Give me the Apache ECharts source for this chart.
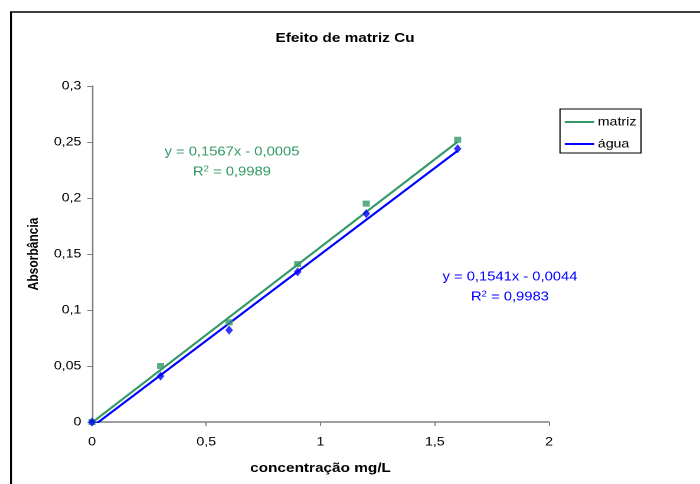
<!DOCTYPE html>
<html>
<head>
<meta charset="utf-8">
<script src="https://cdn.jsdelivr.net/npm/echarts@6/dist/echarts.min.js"></script>
<style>
  html, body { margin: 0; padding: 0; background: #fff; overflow: hidden; }
  /* The chart is laid out on a narrower canvas and widened to 700px,
     which gives the broad, spaced-out lettering of the original sheet */
  #chart { width: 593px; height: 484px; transform: scaleX(1.18044); transform-origin: 0 0; }
</style>
</head>
<body>
<div id="chart"></div>
<script>
// Absorbance readings for Cu standards, in matrix and in water
const concentrations = [0, 0.3, 0.6, 0.9, 1.2, 1.6];
const matrizAbs = [0, 0.050, 0.089, 0.141, 0.195, 0.252];
const aguaAbs = [0, 0.041, 0.082, 0.134, 0.186, 0.244];

// Linear fit coefficients shown on the chart
const matrizFit = { slope: 0.1567, intercept: -0.0005, r2: 0.9989 };
const aguaFit = { slope: 0.1541, intercept: -0.0044, r2: 0.9983 };

// Axis ranges
const xTicks = { min: 0, max: 2, interval: 0.5 };
const yTicks = { min: 0, max: 0.3, interval: 0.05 };

const GREEN = '#339966';
const BLUE = '#0000FF';
const FONT = '"Liberation Sans", Arial, sans-serif';

const comma = v => String(v).replace('.', ',');
const fmt4 = v => v.toFixed(4).replace('.', ',');

function pairs(xs, ys) { return xs.map((x, i) => [x, ys[i]]); }
function fitLine(fit) {
  const x0 = concentrations[0];
  const x1 = concentrations[concentrations.length - 1];
  return [[x0, fit.slope * x0 + fit.intercept], [x1, fit.slope * x1 + fit.intercept]];
}
function eqText(fit) {
  const sign = fit.intercept < 0 ? '-' : '+';
  return 'y = ' + fmt4(fit.slope) + 'x ' + sign + ' ' + fmt4(Math.abs(fit.intercept));
}
function fitLabels(fit, color, cx, cy) {
  return [
    {
      type: 'text', x: cx, y: cy, silent: true,
      style: { text: eqText(fit), fill: color, font: '12.5px ' + FONT, align: 'center', verticalAlign: 'middle' }
    },
    {
      type: 'text', x: cx, y: cy + 20, silent: true,
      style: {
        text: '{n|R}{s|2}{n| = ' + fmt4(fit.r2) + '}',
        align: 'center', verticalAlign: 'middle',
        rich: {
          n: { fontFamily: FONT, fontSize: 12.5, fill: color },
          s: { fontFamily: FONT, fontSize: 8, fill: color, verticalAlign: 'top' }
        }
      }
    }
  ];
}

const chart = echarts.init(document.getElementById('chart'), null, { renderer: 'canvas', devicePixelRatio: 2 });

chart.setOption({
  backgroundColor: '#fff',
  animation: false,
  title: {
    text: 'Efeito de matriz Cu',
    left: 292.3, textAlign: 'center', top: 32, padding: 0,
    textStyle: { fontFamily: FONT, fontSize: 13, fontWeight: 'bold', color: '#000' }
  },
  legend: {
    left: 474.4, top: 109,
    orient: 'vertical',
    data: ['matriz', 'água'],
    icon: 'rect',
    itemWidth: 25, itemHeight: 2,
    itemGap: 10,
    padding: [7, 4, 3, 4],
    borderColor: '#000', borderWidth: 1,
    textStyle: { fontFamily: FONT, fontSize: 12, color: '#000', padding: [0, 0, 0, -2] }
  },
  grid: { left: 77.94, right: 127.9, top: 86, bottom: 62 },
  xAxis: {
    type: 'value', min: xTicks.min, max: xTicks.max, interval: xTicks.interval,
    name: 'concentração mg/L', nameLocation: 'middle', nameGap: 40,
    nameTextStyle: { fontFamily: FONT, fontSize: 13, fontWeight: 'bold', color: '#000' },
    axisLine: { lineStyle: { color: '#808080', width: 1.5 } },
    axisTick: { show: true, length: 4, lineStyle: { color: '#808080' } },
    splitLine: { show: false },
    axisLabel: { formatter: comma, fontFamily: FONT, fontSize: 12, color: '#000', margin: 14 }
  },
  yAxis: {
    type: 'value', min: yTicks.min, max: yTicks.max, interval: yTicks.interval,
    name: 'Absorbância', nameLocation: 'middle', nameGap: 33,
    nameTextStyle: { fontFamily: FONT, fontSize: 12, fontWeight: 'bold', color: '#000' },
    axisLine: { show: true, lineStyle: { color: '#808080', width: 1.3 } },
    axisTick: { show: true, length: 4, lineStyle: { color: '#808080' } },
    splitLine: { show: false },
    axisLabel: { formatter: comma, fontFamily: FONT, fontSize: 12, color: '#000', margin: 9 }
  },
  series: [
    {
      name: 'matriz', type: 'line', data: fitLine(matrizFit),
      showSymbol: false, clip: true, z: 2,
      lineStyle: { color: GREEN, width: 2 }, itemStyle: { color: GREEN }
    },
    {
      name: 'água', type: 'line', data: fitLine(aguaFit),
      showSymbol: false, clip: true, z: 2,
      lineStyle: { color: BLUE, width: 2 }, itemStyle: { color: BLUE }
    },
    {
      name: 'matriz medidas', type: 'scatter', data: pairs(concentrations, matrizAbs),
      symbol: 'rect', symbolSize: [6, 6], z: 3, itemStyle: { color: GREEN }
    },
    {
      name: 'água medidas', type: 'scatter', data: pairs(concentrations, aguaAbs),
      symbol: 'diamond', symbolSize: [6.5, 9], z: 3, itemStyle: { color: BLUE }
    }
  ],
  graphic: [
    {
      type: 'rect', silent: true,
      shape: { x: 9.3, y: 12, width: 700, height: 520 },
      style: { fill: 'none', stroke: '#000', lineWidth: 1.6 }
    }
  ].concat(fitLabels(matrizFit, GREEN, 196.5, 152), fitLabels(aguaFit, BLUE, 432.0, 277))
});
</script>
</body>
</html>
